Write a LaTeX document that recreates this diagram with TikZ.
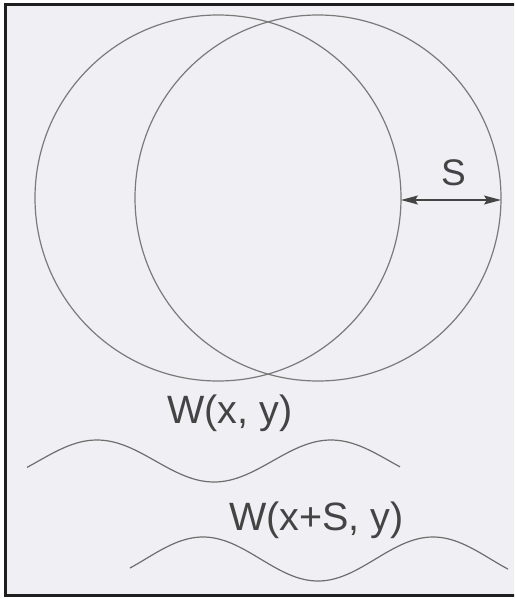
\documentclass[tikz,border=0pt]{standalone}
\usepackage{fontspec}
\setmainfont{Liberation Sans}
\usetikzlibrary{arrows.meta}
\definecolor{bgc}{HTML}{F0F0F4}
\definecolor{linec}{HTML}{7A7A7A}
\definecolor{wavec}{HTML}{6E6E6E}
\definecolor{textc}{HTML}{444444}
\definecolor{framec}{HTML}{1E1E1E}
\tikzset{
  circ/.style={draw=linec, line width=1.2pt},
  wave/.style={draw=wavec, line width=1.2pt},
  lbl/.style={text=textc, inner sep=0pt, anchor=base west, font=\fontsize{39.5}{42}\selectfont},
  dimarrow/.style={draw=textc, line width=1.2pt, {Stealth[length=17pt,width=9pt,inset=3pt]}-{Stealth[length=17pt,width=9pt,inset=3pt]}}
}
\begin{document}
\begin{tikzpicture}[x=1pt,y=-1pt]
\useasboundingbox (0,0) rectangle (514,599);
\clip (0,0) rectangle (514,599);
\fill[white] (0,0) rectangle (514,599);
\draw[framec, line width=3pt, fill=bgc] (5,5) rectangle (560,595);
% circles
\draw[circ] (218,198) circle[radius=183];
\draw[circ] (318,198) circle[radius=183];
% dimension S
\coordinate (L1) at (401,200);
\coordinate (R2) at (501,200);
\draw[dimarrow] (L1) -- (R2);
\node[lbl, font=\fontsize{37}{40}\selectfont] (S) at (441,185) {S};
% waves
\draw[wave] plot[domain=27:400, samples=120, smooth] (\x, {461-21*cos((\x-97)/234*360)});
\draw[wave] plot[domain=130:508, samples=120, smooth] (\x, {559-22*cos((\x-203)/230*360)});
% labels
\node[lbl] (W1) at (167,423) {W(x, y)};
\node[lbl] (W2) at (229,530) {W(x+S, y)};
\end{tikzpicture}
\end{document}
